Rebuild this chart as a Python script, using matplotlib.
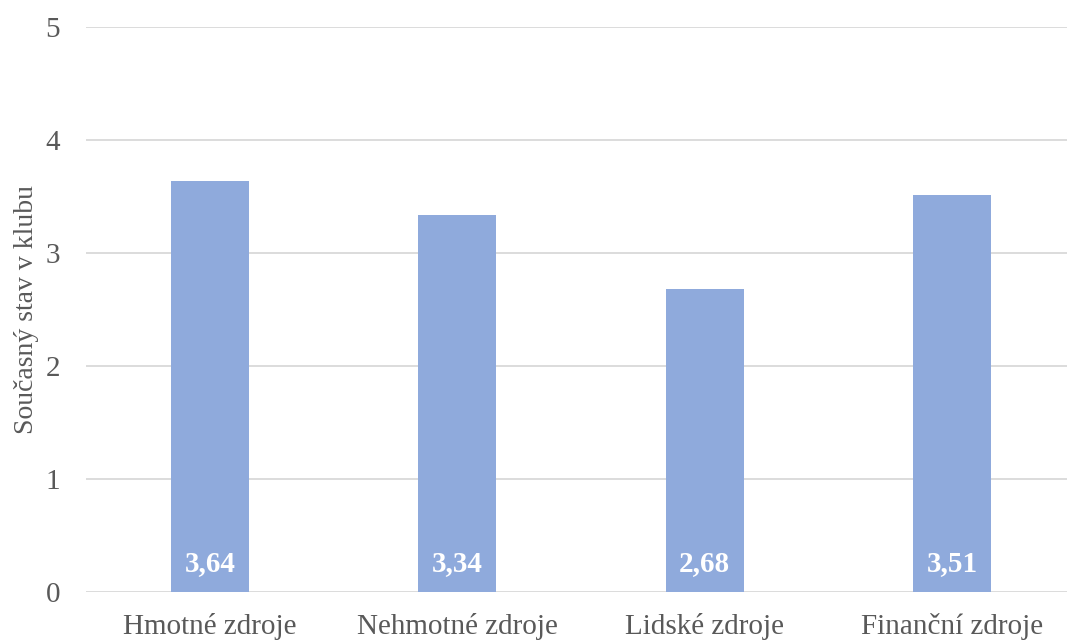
import matplotlib
matplotlib.use("Agg")
import matplotlib.pyplot as plt

categories = ["Hmotné zdroje", "Nehmotné zdroje", "Lidské zdroje", "Finanční zdroje"]
values = [3.64, 3.34, 2.68, 3.51]
labels = ["3,64", "3,34", "2,68", "3,51"]
yticks = [0, 1, 2, 3, 4, 5]

plt.rcParams['font.family'] = ['Liberation Serif', 'DejaVu Serif']

fig = plt.figure(figsize=(10.67, 6.41), dpi=100)
ax = fig.add_axes([0.081, 0.0764, 0.927, 0.8815])

x = list(range(len(categories)))
bars = ax.bar(x, values, width=0.316, color="#8FAADC", zorder=3)

for xi, lab in zip(x, labels):
    ax.text(xi, 0.25, lab, ha="center", va="center", color="white",
            fontweight="bold", fontsize=21, zorder=4)

ax.set_xlim(-0.5, len(categories) - 0.5)
ax.set_ylim(0, 5)
ax.set_yticks(yticks)
ax.set_yticklabels([str(t) for t in yticks])
ax.set_xticks(x)
ax.set_xticklabels(categories)
ax.yaxis.grid(True, color="#D9D9D9", linewidth=1.3, zorder=0)
ax.set_axisbelow(True)
for s in ax.spines.values():
    s.set_visible(False)
ax.tick_params(axis="both", length=0, colors="#595959", labelsize=21)
ax.tick_params(axis="y", pad=19)
ax.tick_params(axis="x", pad=15)
ax.set_ylabel("Současný stav v klubu", fontsize=20, color="#595959")
ax.yaxis.set_label_coords(-0.048, 0.5)

fig.savefig("out.png", dpi=100)
